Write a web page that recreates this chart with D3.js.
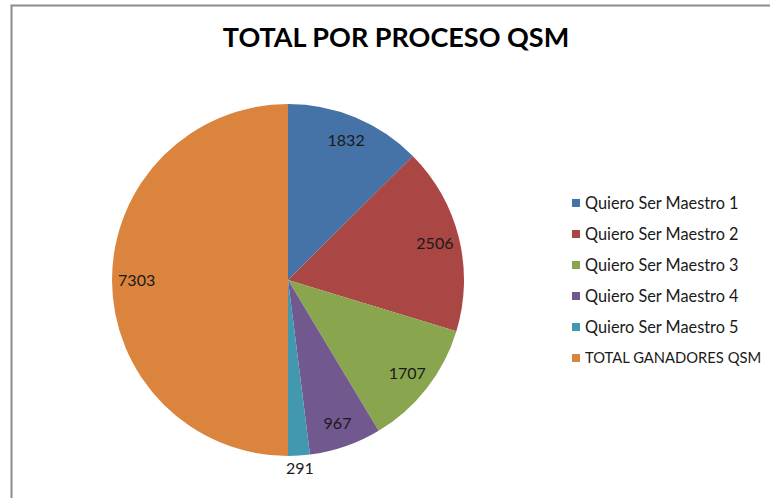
<!DOCTYPE html>
<html>
<head>
<meta charset="utf-8">
<script src="https://cdn.jsdelivr.net/npm/d3@7"></script>
<style>
  body { margin: 0; background: #fff; }
  svg { display: block; font-family: Lato, "Open Sans", sans-serif; }
</style>
</head>
<body>
<div class="content"></div>
<script>
const categories = ['Quiero Ser Maestro 1', 'Quiero Ser Maestro 2', 'Quiero Ser Maestro 3',
                    'Quiero Ser Maestro 4', 'Quiero Ser Maestro 5', 'TOTAL GANADORES QSM'];
const values = [1832, 2506, 1707, 967, 291, 7303];
const colors = ['#4572A7', '#AA4643', '#89A54E', '#71588F', '#4198AF', '#DB843D'];
const title = 'TOTAL POR PROCESO QSM';

const width = 770, height = 498;
const cx = 288, cy = 280, radius = 176;

const svg = d3.select('div.content')
              .append('svg')
              .attr('width', width)
              .attr('height', height);

// chart area border (right/bottom edges fall outside the picture)
svg.append('rect')
   .attr('x', 11.5).attr('y', 5.5)
   .attr('width', 800).attr('height', 600)
   .attr('fill', 'none')
   .attr('stroke', '#8c8c8c')
   .attr('stroke-width', 2);

svg.append('text')
   .attr('x', 396).attr('y', 47)
   .attr('text-anchor', 'middle')
   .attr('font-size', 27)
   .attr('font-weight', 'bold')
   .attr('fill', '#000')
   .text(title);

const data = categories.map((c, i) => ({ name: c, value: values[i], color: colors[i] }));

const pie = d3.pie().sort(null).value(d => d.value);
const arcs = pie(data);
const arc = d3.arc().innerRadius(0).outerRadius(radius);
const labelArc = d3.arc().innerRadius(radius * 0.86).outerRadius(radius * 0.86);
const outerArc = d3.arc().innerRadius(radius + 13).outerRadius(radius + 13);

const g = svg.append('g').attr('transform', `translate(${cx},${cy})`);

g.selectAll('path.slice')
 .data(arcs)
 .enter()
 .append('path')
 .attr('class', 'slice')
 .attr('d', arc)
 .attr('fill', d => d.data.color);

g.selectAll('text.lbl')
 .data(arcs)
 .enter()
 .append('text')
 .attr('class', 'lbl')
 .attr('transform', d => {
   const small = (d.endAngle - d.startAngle) < 0.2;
   return `translate(${(small ? outerArc : labelArc).centroid(d)})`;
 })
 .attr('dy', '0.35em')
 .attr('text-anchor', 'middle')
 .attr('font-size', 16)
 .attr('fill', '#1a1a1a')
 .text(d => d.data.value);

const legend = svg.append('g').attr('transform', 'translate(572,203)');
const item = legend.selectAll('g.item')
                   .data(data)
                   .enter()
                   .append('g')
                   .attr('class', 'item')
                   .attr('transform', (d, i) => `translate(0,${i * 31})`);
item.append('rect')
    .attr('x', 0).attr('y', -4)
    .attr('width', 8).attr('height', 8)
    .attr('fill', d => d.color);
item.append('text')
    .attr('x', 13).attr('dy', '0.35em')
    .attr('font-size', 16.3)
    .attr('fill', '#1a1a1a')
    .text(d => d.name)
    .each(function () {
      // shrink long entries so they stay inside the frame
      const len = this.getComputedTextLength();
      if (len > 178) {
        d3.select(this).attr('font-size', 16.3 * 176 / len);
      }
    });
</script>
</body>
</html>
